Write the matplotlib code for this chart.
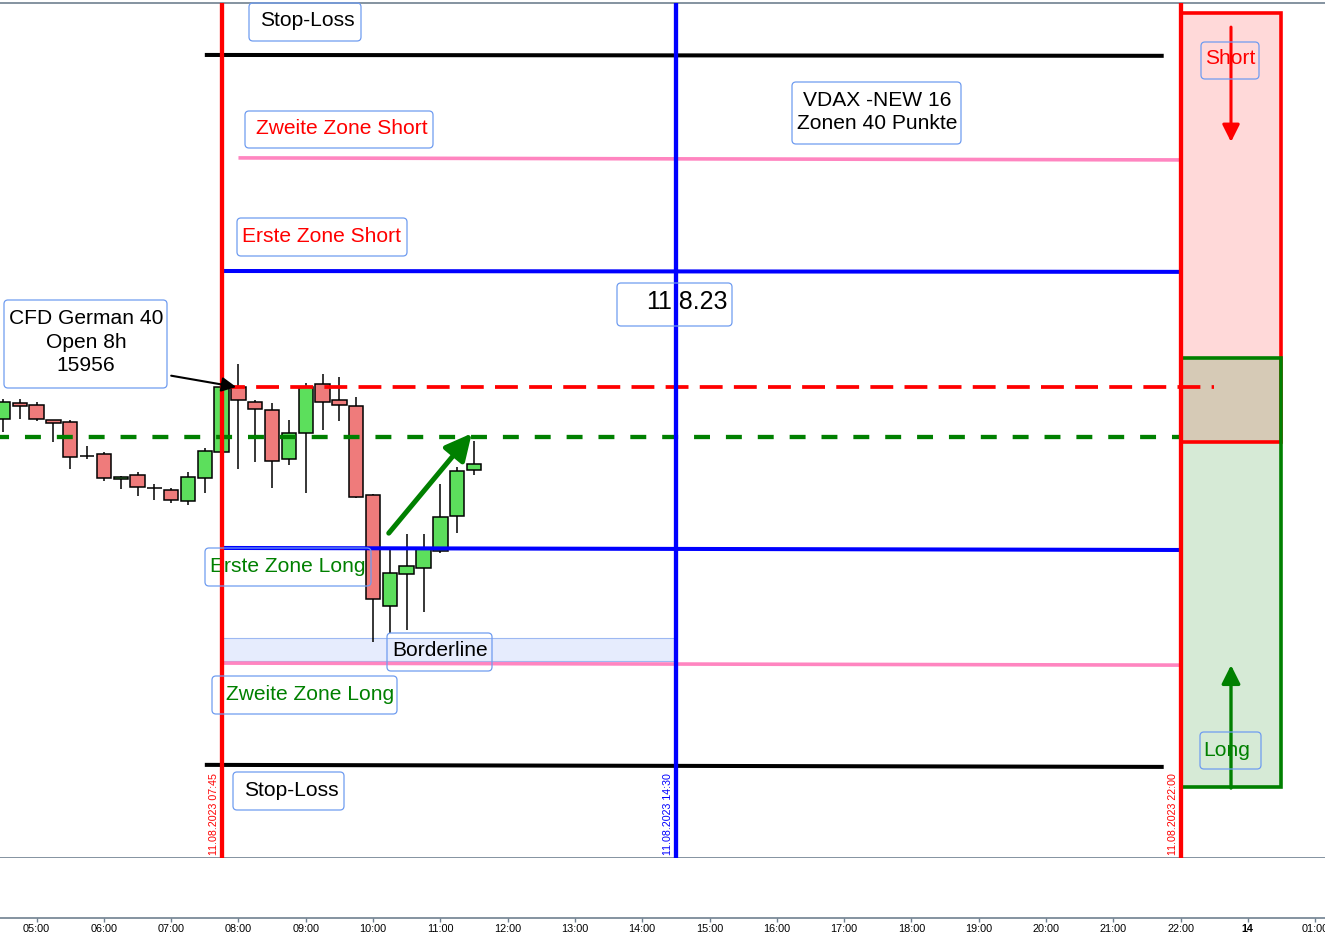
import matplotlib
matplotlib.use("Agg")
import matplotlib.pyplot as plt
from matplotlib.patches import Rectangle, FancyBboxPatch
from matplotlib.transforms import Affine2D

W, H, DPI = 1325, 933, 100
FONT = ["Liberation Sans", "DejaVu Sans"]
plt.rcParams["font.family"] = FONT

# ---------------- data ----------------
candle_times = ["04:30", "04:45", "05:00", "05:15", "05:30", "05:45", "06:00", "06:15",
                "06:30", "06:45", "07:00", "07:15", "07:30", "07:45", "08:00", "08:15",
                "08:30", "08:45", "09:00", "09:15", "09:30", "09:45", "10:00", "10:15",
                "10:30", "10:45", "11:00", "11:15", "11:30"]
opens = [15944.9, 15950.5, 15949.8, 15944.5, 15943.9, 15932.3, 15932.8, 15924.2, 15925.6,
         15921.2, 15920.4, 15916.6, 15924.5, 15933.5, 15955.9, 15950.7, 15948.0, 15931.1,
         15940.0, 15956.9, 15951.4, 15949.3, 15918.7, 15880.6, 15891.4, 15893.5, 15899.6,
         15911.4, 15927.3]
highs = [15951.9, 15951.9, 15950.9, 15944.5, 15944.5, 15935.7, 15933.5, 15925.3, 15926.7,
         15922.4, 15921.2, 15926.6, 15934.9, 15956.3, 15963.9, 15951.5, 15950.5, 15944.5,
         15957.3, 15960.5, 15959.4, 15952.4, 15919.0, 15900.5, 15905.3, 15905.3, 15922.6,
         15928.3, 15937.4]
lows = [15940.6, 15944.9, 15944.4, 15937.1, 15927.8, 15931.1, 15923.5, 15920.9, 15918.5,
        15917.0, 15916.1, 15915.4, 15919.6, 15933.2, 15927.8, 15930.2, 15921.3, 15929.2,
        15919.6, 15941.3, 15944.4, 15917.6, 15868.2, 15871.2, 15872.3, 15878.5, 15898.7,
        15905.6, 15925.8]
closes = [15950.7, 15949.3, 15944.9, 15943.5, 15932.0, 15932.3, 15924.5, 15925.0, 15921.4,
          15921.2, 15916.9, 15924.9, 15933.9, 15955.9, 15951.4, 15948.3, 15930.4, 15940.0,
          15956.1, 15950.7, 15949.7, 15918.0, 15882.9, 15891.8, 15894.2, 15900.1, 15911.1,
          15927.0, 15929.3]

tick_hours = [5, 6, 7, 8, 9, 10, 11, 12, 13, 14, 15, 16, 17, 18, 19, 20, 21, 22, 23, 24]
tick_labels = ["05:00", "06:00", "07:00", "08:00", "09:00", "10:00", "11:00", "12:00",
               "13:00", "14:00", "15:00", "16:00", "17:00", "18:00", "19:00", "20:00",
               "21:00", "22:00", "14", "01:00"]

marker_times = ["07:45", "14:30", "22:00"]
marker_labels = ["11.08.2023 07:45", "11.08.2023 14:30", "11.08.2023 22:00"]

stop_loss_short = [16070.5, 16070.2]
zone2_short = [16035.0, 16034.3]
zone1_short = [15996.0, 15995.7]
open_8h = 15956.0
green_level = 15938.8
zone1_long = [15900.5, 15899.8]
zone2_long = [15860.8, 15860.1]
stop_loss_long = [15825.7, 15825.0]
borderline = [15861.5, 15869.4]
short_zone = [15937.0, 16085.0]
long_zone = [15818.1, 15966.0]
short_arrow = [16080.1, 16040.5]
long_arrow = [15817.7, 15860.1]
open_arrow = [("07:00", 15959.9), ("07:58", 15956.0)]
trend_arrow = [("10:14", 15905.6), ("11:28", 15940.0)]


def hrs(s):
    h, m = s.split(":")
    return int(h) + int(m) / 60.0


# ---------------- layout ----------------
PX_PER_H = 67.29
XMIN = 5 - 36.6 / PX_PER_H
XMAX = XMIN + W / PX_PER_H
PX_PER_PT = 2.9
YMAX = open_8h + (387 - 3) / PX_PER_PT
YMIN = open_8h - (858 - 387) / PX_PER_PT

fig = plt.figure(figsize=(W / DPI, H / DPI), dpi=DPI, facecolor="white")
ax = fig.add_axes([0, 75 / H, 1, 855 / H])
ax.set_xlim(XMIN, XMAX)
ax.set_ylim(YMIN, YMAX)
ax.set_xticks([])
ax.set_yticks([])
GRAY = "#708090"
for s in ["left", "right"]:
    ax.spines[s].set_visible(False)
for s in ["top", "bottom"]:
    ax.spines[s].set_color(GRAY)
    ax.spines[s].set_linewidth(1.2)

ax2 = fig.add_axes([0, 15 / H, 1, 60 / H])
ax2.set_xlim(XMIN, XMAX)
ax2.set_yticks([])
for s in ["left", "right", "top"]:
    ax2.spines[s].set_visible(False)
ax2.spines["bottom"].set_color(GRAY)
ax2.spines["bottom"].set_linewidth(1.2)
ax2.set_xticks(tick_hours)
ax2.set_xticklabels(tick_labels)
ax2.tick_params(axis="x", direction="out", length=3, width=1, color=GRAY,
                labelsize=7.8, pad=1.2)
for lab in ax2.get_xticklabels():
    if lab.get_text() == "14":
        lab.set_fontweight("bold")

PT = Affine2D().scale(1 / DPI, -1 / DPI).translate(0, H / DPI) + fig.dpi_scale_trans

# ---------------- zones ----------------
t_close = hrs("22:00")
t_right = hrs("23:30")
ax.add_patch(Rectangle((t_close, short_zone[0]), t_right - t_close, short_zone[1] - short_zone[0],
                       fc=(1, 0, 0, 0.15), ec="none", zorder=1))
ax.add_patch(Rectangle((t_close, long_zone[0]), t_right - t_close, long_zone[1] - long_zone[0],
                       fc=(0, 0.5, 0, 0.16), ec="none", zorder=1.1))
ax.add_patch(Rectangle((t_close, short_zone[0]), t_right - t_close, short_zone[1] - short_zone[0],
                       fc="none", ec="#ff0000", lw=2.6, zorder=1.3))
ax.add_patch(Rectangle((t_close, long_zone[0]), t_right - t_close, long_zone[1] - long_zone[0],
                       fc="none", ec="#008000", lw=2.6, zorder=1.3))

# borderline band
ax.add_patch(Rectangle((hrs("07:45"), borderline[0]), hrs("14:30") - hrs("07:45"),
                       borderline[1] - borderline[0], fc="#e6ecfd", ec="#9db8f2", lw=0.8, zorder=1))

# ---------------- text boxes (reference pixel coords) ----------------
BOXC = "#6f9cf0"
FS = 15.1
boxes = [
    ((249, 3, 361, 41), "Stop-Loss", "black", (307, 21)),
    ((245, 111, 433, 148), "Zweite Zone Short", "#ff0000", (342, 128)),
    ((792, 82, 961, 144), "VDAX -NEW 16\nZonen 40 Punkte", "black", (877, 112)),
    ((237, 218, 407, 256), "Erste Zone Short", "#ff0000", (322, 236)),
    ((4, 300, 167, 388), "CFD German 40\nOpen 8h\n15956", "black", (86, 342)),
    ((205, 548, 371, 586), "Erste Zone Long", "#008000", (288, 566)),
    ((387, 633, 492, 671), "Borderline", "black", (440, 651)),
    ((212, 676, 397, 714), "Zweite Zone Long", "#008000", (310, 694)),
    ((233, 772, 344, 810), "Stop-Loss", "black", (291, 790)),
    ((1201, 42, 1259, 79), "Short", "#ff0000", (1230, 59)),
    ((1200, 732, 1261, 769), "Long", "#008000", (1227, 750)),
]
for (x0, y0, x1, y1), txt, col, (cx, cy) in boxes:
    fig.add_artist(FancyBboxPatch((x0, y0), x1 - x0, y1 - y0,
                                  boxstyle="round,pad=0,rounding_size=4",
                                  transform=PT, fc="none", ec=BOXC, lw=0.9, zorder=2))
    ax.text(cx, cy, txt, transform=PT, ha="center", va="center", fontsize=FS,
            color=col, zorder=2.5, linespacing=1.33)

# date box
fig.add_artist(FancyBboxPatch((617, 283), 115, 43, boxstyle="round,pad=0,rounding_size=4",
                              transform=PT, fc="none", ec=BOXC, lw=0.9, zorder=2))
ax.text(728, 302, "11.8.23", transform=PT, ha="right", va="center", fontsize=18,
        color="black", zorder=2.5)

# ---------------- candles ----------------
BW = 0.214
for t, o, h, l, c in zip(candle_times, opens, highs, lows, closes):
    x = hrs(t)
    ax.vlines(x, l, h, color="black", lw=1.1, zorder=3)
    if abs(c - o) < 0.05:
        ax.hlines(o, x - BW / 2, x + BW / 2, color="black", lw=1.1, zorder=3.1)
    else:
        col = "#5cdf5c" if c > o else "#ef7b7b"
        ax.add_patch(Rectangle((x - BW / 2, min(o, c)), BW, abs(c - o), fc=col,
                               ec="black", lw=1.1, zorder=3.1))

# ---------------- levels ----------------
ax.plot([hrs("07:30"), hrs("21:45")], stop_loss_short, color="black", lw=2.9, zorder=4,
        solid_capstyle="butt")
ax.plot([hrs("08:00"), hrs("22:00")], zone2_short, color="#ff85c0", lw=2.6, zorder=4,
        solid_capstyle="butt")
ax.plot([hrs("07:45"), hrs("22:00")], zone1_short, color="#0000ff", lw=2.9, zorder=4,
        solid_capstyle="butt")
ax.plot([hrs("07:45"), hrs("22:30")], [open_8h, open_8h], color="#ff0000", lw=2.7,
        linestyle=(0, (6.1, 3.0)), dash_capstyle="butt", zorder=4.2)
ax.plot([XMIN, hrs("22:00")], [green_level, green_level], color="#008000", lw=3.1,
        linestyle=(1.6, (3.7, 3.7)), dash_capstyle="butt", zorder=4.2)
ax.plot([hrs("07:45"), hrs("22:00")], zone1_long, color="#0000ff", lw=2.9, zorder=4,
        solid_capstyle="butt")
ax.plot([hrs("07:45"), hrs("22:00")], zone2_long, color="#ff85c0", lw=2.6, zorder=4,
        solid_capstyle="butt")
ax.plot([hrs("07:30"), hrs("21:45")], stop_loss_long, color="black", lw=2.9, zorder=4,
        solid_capstyle="butt")

# vertical markers
marker_colors = ["#ff0000", "#0000ff", "#ff0000"]
for t, lab, col in zip(marker_times, marker_labels, marker_colors):
    x = hrs(t)
    ax.axvline(x, color=col, lw=3.1, zorder=4.5)
    xd, _ = ax.transData.transform((x, YMIN))
    ax.text(xd / (DPI / 100) - 8, 855, lab, transform=PT, rotation=90, ha="center",
            va="bottom", fontsize=7.7, color=col, zorder=4.6)

# ---------------- arrows ----------------
xa = hrs("22:45")
ax.annotate("", xy=(xa, short_arrow[1]), xytext=(xa, short_arrow[0]),
            arrowprops=dict(arrowstyle="-|>", color="#ff0000", lw=2.2, mutation_scale=26,
                            shrinkA=0, shrinkB=0), zorder=5)
ax.annotate("", xy=(xa, long_arrow[1]), xytext=(xa, long_arrow[0]),
            arrowprops=dict(arrowstyle="-|>", color="#008000", lw=2.4, mutation_scale=28,
                            shrinkA=0, shrinkB=0), zorder=5)
(t0, p0), (t1, p1) = open_arrow
ax.annotate("", xy=(hrs(t1), p1), xytext=(hrs(t0), p0),
            arrowprops=dict(arrowstyle="-|>", color="black", lw=1.5, mutation_scale=22,
                            shrinkA=0, shrinkB=0), zorder=5)
(t0, p0), (t1, p1) = trend_arrow
ax.annotate("", xy=(hrs(t1), p1), xytext=(hrs(t0), p0),
            arrowprops=dict(arrowstyle="-|>", color="#008000", lw=3.6, mutation_scale=40,
                            shrinkA=0, shrinkB=0), zorder=5)

fig.savefig("out.png", dpi=DPI, facecolor="white")
